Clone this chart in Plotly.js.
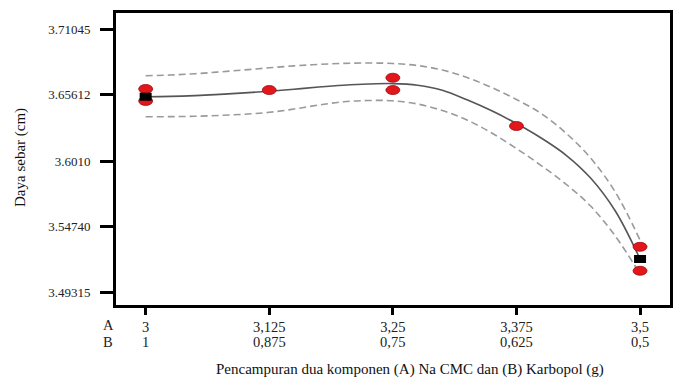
<!DOCTYPE html>
<html>
<head>
<meta charset="utf-8">
<script src="https://cdn.plot.ly/plotly-3.0.1.min.js"></script>
<style>html,body{margin:0;padding:0;background:#fff;}#chart{width:675px;height:379px;}</style>
</head>
<body>
<div id="chart"></div>
<script>
// Shared x positions of the fitted curve and bands (component A, g)
const bandA = [3.000, 3.025, 3.050, 3.075, 3.100, 3.125, 3.150, 3.175, 3.200, 3.225, 3.250,
               3.275, 3.300, 3.325, 3.350, 3.375, 3.400, 3.425, 3.450, 3.475, 3.500];
// Fitted curve
const fitY = [3.65450, 3.65475, 3.65541, 3.65640, 3.65764, 3.65905, 3.66070, 3.66252, 3.66400, 3.66500, 3.66533,
              3.66400, 3.65990, 3.65194, 3.64285, 3.63235, 3.62037, 3.60632, 3.58731, 3.56004, 3.52037];
// Upper confidence band
const upY = [3.67185, 3.67243, 3.67351, 3.67500, 3.67665, 3.67838, 3.67995, 3.68119, 3.68202, 3.68235, 3.68194,
             3.68028, 3.67657, 3.67037, 3.66210, 3.65219, 3.64062, 3.62450, 3.60384, 3.57574, 3.53607];
// Lower confidence band
const loY = [3.63797, 3.63805, 3.63838, 3.63905, 3.64004, 3.64161, 3.64433, 3.64764, 3.65028, 3.65136, 3.65111,
             3.64847, 3.64309, 3.63524, 3.62450, 3.61169, 3.59764, 3.58235, 3.56417, 3.53938, 3.50797];
// Design points (red)
const ptA = [3, 3, 3.125, 3.25, 3.25, 3.375, 3.5, 3.5];
const ptY = [3.6609, 3.6510, 3.6600, 3.6702, 3.6600, 3.6303, 3.5305, 3.5107];
// Replicate markers (black squares)
const sqA = [3, 3.5];
const sqY = [3.6545, 3.5204];
// Tick labels
const xTickVals = [3, 3.125, 3.25, 3.375, 3.5];
const xTickA = ["3", "3,125", "3,25", "3,375", "3,5"];
const xTickB = ["1", "0,875", "0,75", "0,625", "0,5"];
const yTickVals = [3.49315, 3.54740, 3.6010, 3.65612, 3.71045];
const yTickText = ["3.49315", "3.54740", "3.6010", "3.65612", "3.71045"];

const serif = "Liberation Serif, Times New Roman, serif";

const traces = [
  {x: bandA, y: upY, mode: "lines", line: {color: "#9a9a9a", width: 1.6, dash: "7px,4px", shape: "spline", smoothing: 1}, hoverinfo: "skip"},
  {x: bandA, y: loY, mode: "lines", line: {color: "#9a9a9a", width: 1.6, dash: "7px,4px", shape: "spline", smoothing: 1}, hoverinfo: "skip"},
  {x: bandA, y: fitY, mode: "lines", line: {color: "#555555", width: 1.6, shape: "spline", smoothing: 1}, hoverinfo: "skip"}
];

const shapes = [];
ptA.forEach((a, i) => {
  shapes.push({type: "circle", xref: "x", yref: "y", xsizemode: "pixel", ysizemode: "pixel",
    xanchor: a, yanchor: ptY[i], x0: -7, x1: 7, y0: -4.5, y1: 4.5,
    fillcolor: "#e3161c", line: {color: "#9b0d10", width: 0.8}, layer: "above"});
});
sqA.forEach((a, i) => {
  shapes.push({type: "rect", xref: "x", yref: "y", xsizemode: "pixel", ysizemode: "pixel",
    xanchor: a, yanchor: sqY[i], x0: -6, x1: 6, y0: -4, y1: 4,
    fillcolor: "#000000", line: {width: 0}, layer: "above"});
});

const tickFont = {family: serif, size: 14.5, color: "#222"};
const annotations = [
  {xref: "paper", yref: "paper", x: (108 - 116) / 554, y: (305 - 325) / 292, text: "A", showarrow: false,
   xanchor: "center", yanchor: "middle", font: tickFont},
  {xref: "paper", yref: "paper", x: (108 - 116) / 554, y: (305 - 342) / 292, text: "B", showarrow: false,
   xanchor: "center", yanchor: "middle", font: tickFont},
  {xref: "paper", yref: "paper", x: (410 - 116) / 554, y: (305 - 370) / 292, text: "Pencampuran dua komponen (A) Na CMC dan (B) Karbopol (g)",
   showarrow: false, xanchor: "center", yanchor: "middle", font: {family: serif, size: 15, color: "#111"}},
  {xref: "paper", yref: "paper", x: (20 - 116) / 554, y: (305 - 158) / 292, text: "Daya sebar (cm)", textangle: -90,
   showarrow: false, xanchor: "center", yanchor: "middle", font: {family: serif, size: 15, color: "#111"}}
];
// second row of x tick labels (component B)
xTickVals.forEach((v, i) => {
  annotations.push({xref: "x", yref: "paper", x: v, y: (305 - 342) / 292, text: xTickB[i], showarrow: false,
    xanchor: "center", yanchor: "middle", font: tickFont});
});

const layout = {
  width: 675, height: 379,
  margin: {l: 116, r: 5, t: 13, b: 74, pad: 0},
  paper_bgcolor: "#ffffff", plot_bgcolor: "#ffffff",
  showlegend: false,
  font: {family: serif, color: "#222222"},
  xaxis: {
    range: [2.970, 3.5303], showgrid: false, zeroline: false,
    showline: true, mirror: true, linecolor: "#000", linewidth: 3,
    ticks: "outside", ticklen: 7, tickwidth: 3, tickcolor: "#000",
    tickvals: xTickVals, ticktext: xTickA, ticklabelstandoff: 0,
    tickfont: tickFont
  },
  yaxis: {
    range: [3.48241, 3.72367], showgrid: false, zeroline: false,
    showline: true, mirror: true, linecolor: "#000", linewidth: 3,
    ticks: "outside", ticklen: 13, tickwidth: 3, tickcolor: "#000",
    tickvals: yTickVals, ticktext: yTickText, ticklabelstandoff: 7,
    tickfont: {family: serif, size: 13, color: "#222"}
  },
  shapes: shapes,
  annotations: annotations
};

Plotly.newPlot("chart", traces, layout, {displayModeBar: false, staticPlot: true});
</script>
</body>
</html>
